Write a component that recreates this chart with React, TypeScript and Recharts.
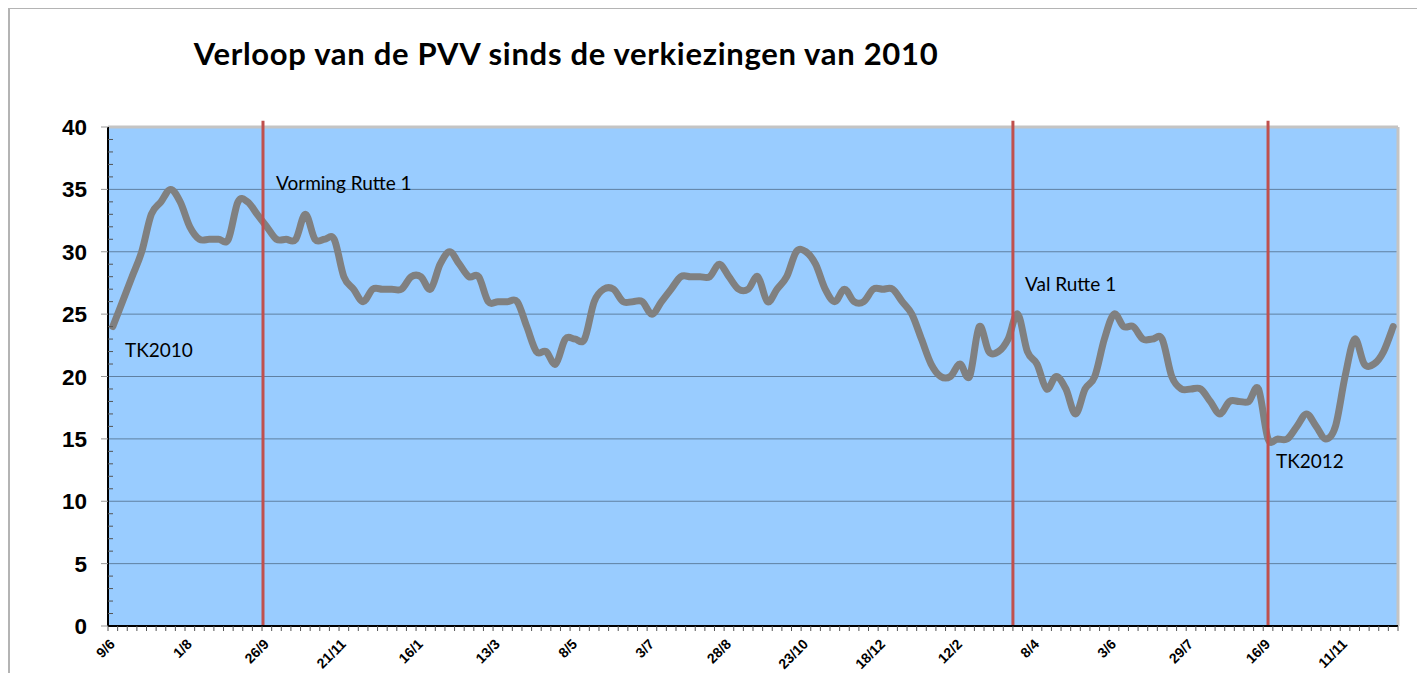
import React from 'react';
import { LineChart, Line, XAxis, YAxis, CartesianGrid, ReferenceLine } from 'recharts';

// PVV zetels in de peilingen, per week
const pvvSeats = [
  24, 26, 28, 30, 33, 34, 35, 34, 32, 31,
  31, 31, 31, 34, 34, 33, 32, 31, 31, 31,
  33, 31, 31, 31, 28, 27, 26, 27, 27, 27,
  27, 28, 28, 27, 29, 30, 29, 28, 28, 26,
  26, 26, 26, 24, 22, 22, 21, 23, 23, 23,
  26, 27, 27, 26, 26, 26, 25, 26, 27, 28,
  28, 28, 28, 29, 28, 27, 27, 28, 26, 27,
  28, 30, 30, 29, 27, 26, 27, 26, 26, 27,
  27, 27, 26, 25, 23, 21, 20, 20, 21, 20,
  24, 22, 22, 23, 25, 22, 21, 19, 20, 19,
  17, 19, 20, 23, 25, 24, 24, 23, 23, 23,
  20, 19, 19, 19, 18, 17, 18, 18, 18, 19,
  15, 15, 15, 16, 17, 16, 15, 16, 20, 23,
  21, 21, 22, 24,
];

// one label every 8 weeks
const dateLabels = [
  '9/6', '1/8', '26/9', '21/11', '16/1', '13/3', '8/5', '3/7', '28/8',
  '23/10', '18/12', '12/2', '8/4', '3/6', '29/7', '16/9', '11/11',
];
const labelEvery = 8;

const yMax = 40;
const yMajor = 5;

// positions (in weeks) of the red event markers
const eventWeeks = [15.6, 93.5, 120];

const notes = [
  { text: 'TK2010', x: 117, y: 349 },
  { text: 'Vorming Rutte 1', x: 268, y: 182 },
  { text: 'Val Rutte 1', x: 1017, y: 283 },
  { text: 'TK2012', x: 1268, y: 460 },
];

const chartData = pvvSeats.map((v, i) => ({ week: i, seats: v }));

const xTicks: number[] = [];
for (let i = 0; i <= pvvSeats.length; i++) xTicks.push(i - 0.5);
dateLabels.forEach((_, k) => xTicks.push(k * labelEvery));

const yTicks: number[] = [];
for (let v = 0; v <= yMax; v++) yTicks.push(v);
const gridValues = yTicks.filter((v) => v % yMajor === 0 && v > 0 && v < yMax);

const axisFont = '"Liberation Sans", Arial, sans-serif';
const textFont = 'Lato, "Open Sans", sans-serif';

// Excel-like smoothed line (Catmull-Rom through every point)
const smoothCurve = (context: any) => {
  let pts: [number, number][] = [];
  return {
    areaStart() {},
    areaEnd() {},
    lineStart() {
      pts = [];
    },
    lineEnd() {
      if (!pts.length) return;
      context.moveTo(pts[0][0], pts[0][1]);
      for (let i = 0; i < pts.length - 1; i++) {
        const p0 = pts[Math.max(i - 1, 0)];
        const p1 = pts[i];
        const p2 = pts[i + 1];
        const p3 = pts[Math.min(i + 2, pts.length - 1)];
        context.bezierCurveTo(
          p1[0] + (p2[0] - p0[0]) / 6,
          p1[1] + (p2[1] - p0[1]) / 6,
          p2[0] - (p3[0] - p1[0]) / 6,
          p2[1] - (p3[1] - p1[1]) / 6,
          p2[0],
          p2[1]
        );
      }
    },
    point(x: number, y: number) {
      pts.push([x, y]);
    },
  };
};

function XTick({ x, y, payload }: any) {
  const v = payload.value;
  if (Number.isInteger(v)) {
    const label = dateLabels[v / labelEvery];
    const ax = x + 3;
    const ay = y + 19;
    return (
      <text
        x={ax}
        y={ay}
        transform={`rotate(-45 ${ax} ${ay})`}
        textAnchor="end"
        fontFamily={axisFont}
        fontWeight="bold"
        fontSize={14}
        fill="#000"
      >
        {label}
      </text>
    );
  }
  return <line x1={x} x2={x} y1={y} y2={y + 5} stroke="#555" strokeWidth={1} />;
}

function YTick({ x, y, payload }: any) {
  const v = payload.value;
  if (v % yMajor === 0) {
    return (
      <g>
        <line x1={x - 7} x2={x} y1={y} y2={y} stroke="#999" strokeWidth={1} />
        <text
          x={x - 21}
          y={y}
          dy="0.36em"
          textAnchor="end"
          fontFamily={axisFont}
          fontWeight="bold"
          fontSize={22.5}
          fill="#000"
        >
          {v}
        </text>
      </g>
    );
  }
  return <line x1={x} x2={x + 5} y1={y} y2={y} stroke="#555" strokeWidth={1} />;
}

export default function App() {
  return (
    <div style={{ position: 'relative', width: 1412, height: 665 }}>
      <div
        style={{
          position: 'absolute',
          left: 0,
          top: -1,
          width: 1413,
          height: 700,
          border: '2px solid #b4b4b4',
          boxSizing: 'border-box',
        }}
      />
      <LineChart
        width={1412}
        height={665}
        data={chartData}
        margin={{ top: 119, right: 22, bottom: 0, left: 0 }}
        style={{ position: 'absolute', left: 0, top: 0 }}
      >
        <CartesianGrid horizontal={false} vertical={false} fill="#99ccff" />
        {gridValues.map((v) => (
          <ReferenceLine key={`g${v}`} y={v} stroke="#5f80a2" strokeWidth={1} />
        ))}
        <ReferenceLine y={yMax} stroke="#c4c4c4" strokeWidth={3} />
        <ReferenceLine x={pvvSeats.length - 0.5} stroke="#c4c4c4" strokeWidth={3} />
        <XAxis
          dataKey="week"
          type="number"
          domain={[-0.5, pvvSeats.length - 0.5]}
          ticks={xTicks}
          interval={0}
          tick={<XTick />}
          tickLine={false}
          tickSize={0}
          tickMargin={0}
          height={47}
          axisLine={{ stroke: '#000', strokeWidth: 2 }}
        />
        <YAxis
          type="number"
          domain={[0, yMax]}
          ticks={yTicks}
          interval={0}
          tick={<YTick />}
          tickLine={false}
          tickSize={0}
          tickMargin={0}
          width={100}
          axisLine={{ stroke: '#000', strokeWidth: 2 }}
        />
        <Line
          dataKey="seats"
          type={smoothCurve as any}
          stroke="#808080"
          strokeWidth={7}
          strokeLinecap="round"
          strokeLinejoin="round"
          dot={false}
          activeDot={false}
          isAnimationActive={false}
        />
        {eventWeeks.map((w) => (
          <ReferenceLine
            key={`e${w}`}
            segment={[
              { x: w, y: 0 },
              { x: w, y: yMax + 0.5 },
            ]}
            stroke="#c0504d"
            strokeWidth={3}
            ifOverflow="visible"
          />
        ))}
      </LineChart>
      <svg
        width={1412}
        height={665}
        style={{ position: 'absolute', left: 0, top: 0, pointerEvents: 'none' }}
      >
        <text
          x={558}
          y={57}
          textAnchor="middle"
          fontFamily={textFont}
          fontWeight="bold"
          fontSize={31}
          letterSpacing={0.7}
          fill="#000"
        >
          Verloop van de PVV sinds de verkiezingen van 2010
        </text>
        {notes.map((n) => (
          <text key={n.text} x={n.x} y={n.y} fontFamily={textFont} fontSize={19} fill="#000">
            {n.text}
          </text>
        ))}
      </svg>
    </div>
  );
}
